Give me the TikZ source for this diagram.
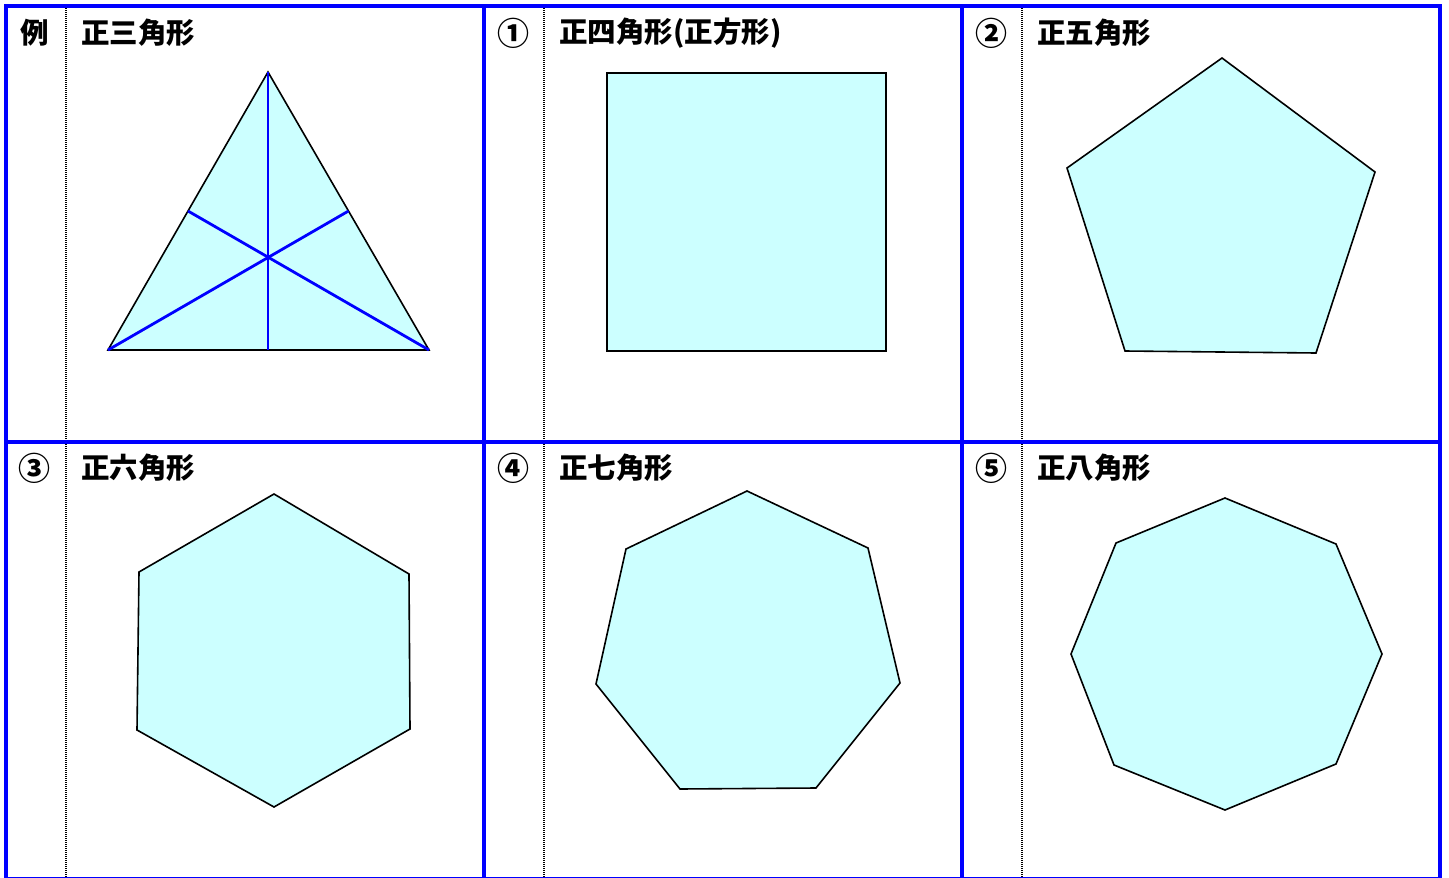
\documentclass[tikz,border=0pt]{standalone}
\usepackage{fontspec}
\usetikzlibrary{calc}
\newfontfamily\jp{Noto Sans CJK JP}
\begin{document}
\begin{tikzpicture}[x=1pt,y=-1pt,
  grid/.style={draw={rgb,255:red,0;green,0;blue,255},line width=3.8pt},
  dotsep/.style={draw=black,line width=1.2pt,dash pattern=on 1pt off 1pt},
  poly/.style={draw=black,line width=1.6pt,fill={rgb,255:red,204;green,255;blue,255},line join=miter},
  median/.style={draw={rgb,255:red,0;green,0;blue,255},line width=2.8pt},
  lbl/.style={font=\jp\bfseries\fontsize{28.5}{28.5}\selectfont,inner sep=0pt,anchor=west},
  num/.style={font=\jp\bfseries\fontsize{32}{32}\selectfont,inner sep=0pt,anchor=center}]
\useasboundingbox (0,0) rectangle (1449,878);
\begin{scope}
\clip (0,0) rectangle (1449,878);
% dotted separators
\coordinate (d1t) at (66,8); \coordinate (d1b) at (66,878);
\coordinate (d2t) at (544,8); \coordinate (d2b) at (544,878);
\coordinate (d3t) at (1022,8); \coordinate (d3b) at (1022,878);
\draw[dotsep] (d1t) -- (d1b);
\draw[dotsep] (d2t) -- (d2b);
\draw[dotsep] (d3t) -- (d3b);
% grid
\coordinate (gTL) at (6,6); \coordinate (gBR) at (1440,878.5);
\draw[grid] (gTL) rectangle (gBR);
\coordinate (v1t) at (484,6); \coordinate (v1b) at (484,878);
\coordinate (v2t) at (962,6); \coordinate (v2b) at (962,878);
\coordinate (h1l) at (6,442); \coordinate (h1r) at (1440,442);
\draw[grid] (v1t) -- (v1b);
\draw[grid] (v2t) -- (v2b);
\draw[grid] (h1l) -- (h1r);
\end{scope}
% labels
\node[lbl,anchor=center] (n0) at (35,33) {例};
\node[lbl] (t0) at (81,33) {正三角形};
\node[num] (n1) at (513,33) {①};
\node[lbl] (t1) at (559,33) {正四角形(正方形)};
\node[num] (n2) at (991,33) {②};
\node[lbl] (t2) at (1037,33) {正五角形};
\node[num] (n3) at (35,468) {③};
\node[lbl] (t3) at (81,468) {正六角形};
\node[num] (n4) at (513,468) {④};
\node[lbl] (t4) at (559,468) {正七角形};
\node[num] (n5) at (991,468) {⑤};
\node[lbl] (t5) at (1037,468) {正八角形};
% triangle
\coordinate (A) at (268,72); \coordinate (B) at (108,350); \coordinate (C) at (429,350);
\draw[poly] (A) -- (B) -- (C) -- cycle;
\coordinate (mBC) at (268,350);
\coordinate (mAC) at (348.5,211);
\coordinate (mAB) at (188,211);
\draw[median] (A) -- (mBC);
\draw[median] (B) -- (mAC);
\draw[median] (C) -- (mAB);
% square
\draw[poly] (607,73) rectangle (886,351);
% pentagon
\draw[poly] (1222,58) -- (1375,172) -- (1316,353) -- (1125,351) -- (1067,168) -- cycle;
% hexagon
\draw[poly] (274,494) -- (409,574) -- (410,729) -- (274,807) -- (137,730) -- (139,572) -- cycle;
% heptagon
\draw[poly] (747,491) -- (868,548) -- (900,683) -- (816,788) -- (680,789) -- (596,684) -- (626,549) -- cycle;
% octagon
\draw[poly] (1225,498) -- (1336,544) -- (1382,654) -- (1336,764) -- (1225,810) -- (1114,765) -- (1071,654) -- (1116,543) -- cycle;
\end{tikzpicture}
\end{document}
